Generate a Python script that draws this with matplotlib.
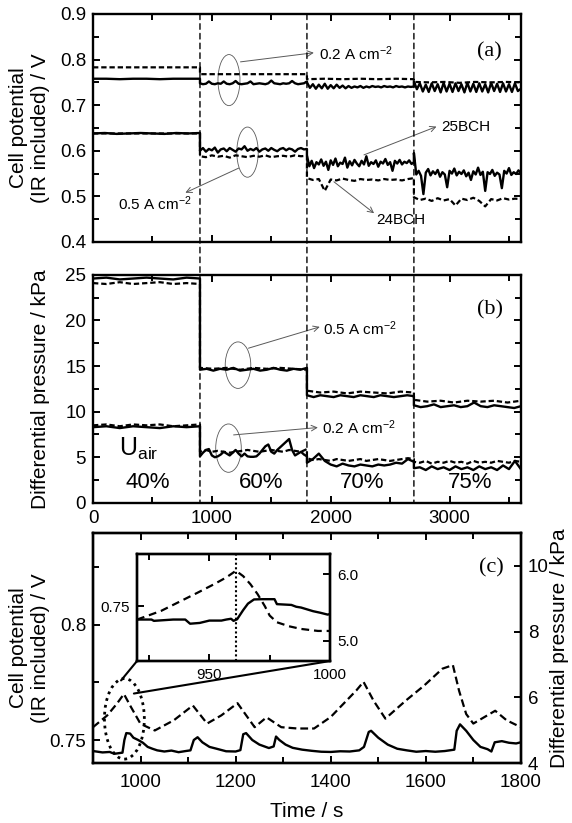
import numpy as np
import matplotlib
matplotlib.use('Agg')
import matplotlib.pyplot as plt
from matplotlib.patches import Ellipse, ConnectionPatch
from matplotlib.ticker import MultipleLocator, FormatStrFormatter, FuncFormatter

plt.rcParams['font.family'] = ['Liberation Sans', 'DejaVu Sans']
plt.rcParams['mathtext.default'] = 'regular'

# ---------------- data ----------------
# step boundaries (s) and Uair labels
steps = [0, 900, 1800, 2700, 3600]
uair_labels = ['40%', '60%', '70%', '75%']
uair_pos = [462, 1415, 2262, 3169]

# (a) cell potential / V, one list per Uair segment
a_s02 = [
    [0.758, 0.758, 0.757, 0.758, 0.758, 0.757, 0.758, 0.758, 0.758],
    [0.748, 0.746, 0.747, 0.752, 0.747, 0.746, 0.748, 0.747, 0.752, 0.747, 0.746, 0.748, 0.753,
     0.747, 0.746, 0.747, 0.748, 0.752, 0.746, 0.747, 0.748, 0.747, 0.746, 0.748, 0.754, 0.748,
     0.747, 0.746, 0.748, 0.747, 0.748, 0.753, 0.748, 0.746, 0.747, 0.748, 0.752],
    [0.750, 0.738, 0.746, 0.736, 0.745, 0.737, 0.747, 0.736, 0.744, 0.737, 0.745, 0.738, 0.743,
     0.737, 0.742, 0.738, 0.741, 0.739, 0.742, 0.738, 0.741, 0.739, 0.742, 0.740, 0.741, 0.739,
     0.742, 0.740, 0.741, 0.739, 0.742, 0.740, 0.741, 0.739, 0.741, 0.740, 0.741],
    [0.752, 0.735, 0.748, 0.730, 0.745, 0.729, 0.748, 0.731, 0.746, 0.728, 0.749, 0.730, 0.747,
     0.729, 0.748, 0.731, 0.746, 0.728, 0.749, 0.730, 0.747, 0.729, 0.748, 0.730, 0.746, 0.728,
     0.749, 0.731, 0.747, 0.729, 0.748, 0.730, 0.746, 0.729, 0.748, 0.731, 0.736],
]
a_d02 = [
    [0.783, 0.783, 0.783],
    [0.768, 0.768, 0.768],
    [0.757, 0.758, 0.757, 0.758, 0.757, 0.758, 0.757],
    [0.751, 0.750, 0.751, 0.749, 0.751, 0.750, 0.751, 0.750],
]
a_s05 = [
    [0.638, 0.639, 0.637, 0.638, 0.639, 0.638, 0.637, 0.639, 0.638, 0.639],
    [0.600, 0.606, 0.598, 0.604, 0.601, 0.607, 0.596, 0.603, 0.605, 0.599, 0.606, 0.602, 0.598,
     0.605, 0.603, 0.610, 0.600, 0.604, 0.601, 0.606, 0.598, 0.603, 0.605, 0.600, 0.606, 0.602,
     0.599, 0.604, 0.606, 0.601, 0.605, 0.603, 0.598, 0.604, 0.606, 0.603, 0.604],
    [0.590, 0.566, 0.578, 0.562, 0.575, 0.570, 0.581, 0.567, 0.576, 0.558, 0.579, 0.569, 0.583,
     0.566, 0.574, 0.571, 0.585, 0.563, 0.577, 0.568, 0.580, 0.572, 0.566, 0.578, 0.570, 0.588,
     0.567, 0.575, 0.571, 0.579, 0.565, 0.576, 0.572, 0.582, 0.569, 0.575, 0.556, 0.578, 0.572,
     0.580, 0.570, 0.576, 0.573, 0.579, 0.571, 0.575],
    [0.595, 0.548, 0.556, 0.545, 0.505, 0.552, 0.560, 0.546, 0.555, 0.549, 0.558, 0.543, 0.553,
     0.548, 0.520, 0.556, 0.550, 0.561, 0.546, 0.554, 0.549, 0.557, 0.544, 0.552, 0.536, 0.555,
     0.548, 0.563, 0.547, 0.554, 0.512, 0.553, 0.549, 0.558, 0.545, 0.552, 0.548, 0.518, 0.556,
     0.550, 0.562, 0.547, 0.553, 0.549, 0.557, 0.551],
]
a_d05 = [
    [0.638, 0.638, 0.638],
    [0.588, 0.586, 0.590, 0.587, 0.589, 0.585, 0.590, 0.588, 0.586, 0.589, 0.587, 0.590, 0.586,
     0.588, 0.589, 0.587, 0.590, 0.588, 0.589],
    [0.540, 0.536, 0.538, 0.512, 0.537, 0.535, 0.539, 0.536, 0.534, 0.538, 0.536, 0.537, 0.535,
     0.538, 0.536, 0.537, 0.535, 0.538, 0.540],
    [0.498, 0.492, 0.495, 0.490, 0.496, 0.491, 0.494, 0.480, 0.495, 0.492, 0.497, 0.490, 0.478,
     0.494, 0.491, 0.496, 0.493, 0.495, 0.494],
]

# (b) differential pressure / kPa
b_s05 = [
    [24.6, 24.7, 24.5, 24.6, 24.7, 24.6, 24.5, 24.7, 24.6],
    [14.6, 14.7, 14.5, 14.7, 14.6, 14.8, 14.5, 14.6, 14.7, 14.5, 14.6, 14.8, 14.6, 14.5, 14.7, 14.6, 14.8],
    [11.8, 11.6, 11.8, 11.7, 11.6, 11.8, 11.7, 11.6, 11.8, 11.7, 11.6, 11.8, 11.7, 11.6, 11.7, 11.8, 11.7],
    [10.7, 10.5, 10.6, 10.8, 10.5, 10.6, 10.7, 10.5, 10.6, 11.0, 10.6, 10.5, 10.7, 10.6, 10.5, 10.4, 10.6],
]
b_d05 = [
    [24.1, 24.0, 24.2, 24.0, 24.1, 24.2, 24.0, 24.1, 24.0],
    [14.8, 14.7, 14.8, 14.6, 14.8, 14.7, 14.8, 14.7, 14.6],
    [12.3, 12.1, 12.2, 12.0, 12.2, 12.1, 12.0, 12.2, 12.1],
    [11.3, 11.1, 11.2, 11.0, 11.2, 11.1, 11.2, 11.0, 11.2],
]
b_s02 = [
    [8.3, 8.4, 8.2, 8.4, 8.3, 8.2, 8.4, 8.3, 8.4],
    [5.1, 5.5, 5.8, 5.9, 5.2, 5.0, 5.1, 5.3, 5.6, 5.4, 5.2, 5.5, 5.8, 5.4, 5.1, 5.4, 5.1, 5.05,
     5.05, 5.1, 5.4, 5.8, 6.2, 6.4, 5.6, 5.4, 5.8, 6.1, 6.4, 6.7, 7.0, 5.8, 5.2, 5.4, 5.6, 5.3, 5.1],
    [4.4, 4.8, 5.4, 4.6, 4.2, 4.0, 4.3, 4.1, 4.0, 4.2, 4.1, 4.0, 4.2, 4.1, 4.2, 4.4, 4.3, 4.8, 4.5],
    [3.8, 3.9, 3.6, 4.0, 3.7, 3.9, 3.6, 4.0, 3.7, 3.9, 3.6, 4.0, 3.7, 3.9, 3.6, 4.1, 3.7, 4.6, 3.7],
]
b_d02 = [
    [8.5, 8.6, 8.4, 8.6, 8.5, 8.6, 8.4, 8.5, 8.6],
    [5.6, 5.8, 5.6, 5.7, 5.6, 5.5, 5.6, 5.7, 5.8, 5.7, 5.6, 5.7, 5.8, 5.7, 5.6, 5.8, 5.7, 5.6, 5.9],
    [4.9, 4.7, 4.8, 4.7, 4.6, 4.8, 4.7, 4.6, 4.7, 4.8, 4.6, 4.7, 4.8, 4.7, 4.6, 4.7, 4.8, 4.9, 4.8],
    [4.5, 4.4, 4.6, 4.3, 4.5, 4.4, 4.6, 4.4, 4.5, 4.3, 4.6, 4.4, 4.5, 4.4, 4.6, 4.5, 4.4, 4.6, 4.5],
]

# (c) zoom 900-1800 s
c_time_v = [900, 920, 935, 945, 955, 962, 966, 970, 978, 985, 995, 1005, 1015, 1025, 1035, 1050,
            1065, 1080, 1095, 1105, 1112, 1120, 1130, 1145, 1160, 1180, 1200, 1210, 1216, 1222,
            1235, 1250, 1270, 1280, 1285, 1292, 1305, 1320, 1340, 1360, 1380, 1400, 1420, 1440,
            1460, 1470, 1480, 1485, 1500, 1520, 1540, 1560, 1580, 1600, 1620, 1640, 1660, 1665,
            1672, 1685, 1700, 1715, 1730, 1738, 1745, 1760, 1775, 1790, 1800]
c_volt = [0.7452, 0.7446, 0.7448, 0.7440, 0.7443, 0.7445, 0.7500, 0.7530, 0.7528, 0.7510, 0.7500,
          0.7488, 0.7470, 0.7462, 0.7455, 0.7450, 0.7454, 0.7447, 0.7452, 0.7455, 0.7500, 0.7512,
          0.7490, 0.7470, 0.7462, 0.7451, 0.7450, 0.7456, 0.7525, 0.7530, 0.7500, 0.7480, 0.7465,
          0.7472, 0.7515, 0.7500, 0.7480, 0.7466, 0.7458, 0.7453, 0.7449, 0.7448, 0.7451, 0.7450,
          0.7455, 0.7470, 0.7535, 0.7540, 0.7510, 0.7480, 0.7462, 0.7455, 0.7449, 0.7452, 0.7449,
          0.7452, 0.7458, 0.7540, 0.7568, 0.7540, 0.7500, 0.7470, 0.7460, 0.7450, 0.7490, 0.7495,
          0.7488, 0.7485, 0.7490]
c_time_p = [900, 930, 950, 965, 980, 1000, 1030, 1070, 1110, 1140, 1170, 1204, 1240, 1265, 1296,
            1330, 1365, 1400, 1430, 1454, 1469, 1490, 1515, 1558, 1596, 1635, 1657, 1670, 1685,
            1700, 1746, 1770, 1800]
c_press = [5.09, 5.45, 5.80, 6.10, 5.70, 5.19, 4.99, 5.30, 5.75, 5.20, 5.45, 5.82, 5.09, 5.39,
           5.09, 5.05, 5.05, 5.40, 5.85, 6.21, 6.47, 5.90, 5.35, 5.90, 6.35, 6.87, 6.98, 6.20,
           5.49, 5.20, 5.59, 5.30, 5.09]

# inset 920-1000 s
in_time_v = [920, 926, 927, 935, 940, 942, 946, 950, 955, 957, 959, 960, 961.5, 964, 966, 968.5,
             972, 977, 978, 984, 986, 988, 993, 996, 999, 1000]
in_volt = [0.7449, 0.7449, 0.7444, 0.7449, 0.7449, 0.7433, 0.7436, 0.7445, 0.7445, 0.7449, 0.7452,
           0.7444, 0.7450, 0.7485, 0.7510, 0.7526, 0.7527, 0.7527, 0.7508, 0.7505, 0.7498, 0.7495,
           0.7481, 0.7475, 0.7468, 0.7470]
in_time_p = [920, 930, 940, 945, 952, 957, 961, 964, 967, 970, 973, 975, 978, 983, 988, 995, 1000]
in_press = [5.32, 5.45, 5.63, 5.72, 5.85, 5.95, 6.05, 5.97, 5.85, 5.70, 5.52, 5.38, 5.28, 5.22,
            5.18, 5.15, 5.15]


def series(segs):
    t, v = [], []
    for k, vals in enumerate(segs):
        t.extend(np.linspace(steps[k], steps[k + 1], len(vals)))
        v.extend(vals)
    return t, v


solid = dict(color='k', lw=1.7, ls='-')
dash = dict(color='k', lw=1.6, ls=(0, (2.4, 1.3)))
gray = '0.35'


def style(ax, size=13.5):
    for s in ax.spines.values():
        s.set_linewidth(1.7)
    ax.tick_params(which='both', direction='in', top=True, right=True, width=1.4,
                   labelsize=size, pad=5)
    ax.tick_params(which='major', length=5)
    ax.tick_params(which='minor', length=4)


fig = plt.figure(figsize=(5.72, 8.23), dpi=100)
ax_a = fig.add_axes([0.1626, 0.706, 0.748, 0.277])
ax_b = fig.add_axes([0.1626, 0.389, 0.748, 0.277])
ax_c = fig.add_axes([0.1626, 0.0729, 0.748, 0.2795])

# ---- (a) ----
for segs, st in [(a_d02, dash), (a_s02, solid), (a_d05, dash), (a_s05, solid)]:
    t, v = series(segs)
    ax_a.plot(t, v, **st)
ax_a.set_xlim(0, 3600)
ax_a.set_ylim(0.4, 0.9)
ax_a.xaxis.set_major_locator(MultipleLocator(1000))
ax_a.xaxis.set_minor_locator(MultipleLocator(500))
ax_a.yaxis.set_major_locator(MultipleLocator(0.1))
ax_a.yaxis.set_minor_locator(MultipleLocator(0.05))
style(ax_a)
ax_a.tick_params(labelbottom=False)
ax_a.set_ylabel('Cell potential\n(IR included) / V', fontsize=15)
ax_a.yaxis.set_label_coords(-0.10, 0.5)
ax_a.text(3339, 0.817, '(a)', fontsize=16, family='Liberation Serif', ha='center', va='center')

ax_a.add_patch(Ellipse((1144, 0.755), 185, 0.112, fill=False, ec=gray, lw=0.6))
ax_a.add_patch(Ellipse((1300, 0.597), 180, 0.110, fill=False, ec=gray, lw=0.6))
arrow = dict(arrowstyle='->', color=gray, lw=0.7, shrinkA=0, shrinkB=0)
ax_a.annotate('', xy=(1858, 0.815), xytext=(1241, 0.795), arrowprops=arrow)
ax_a.text(1900, 0.814, '0.2 A cm$^{-2}$', fontsize=11, va='center')
ax_a.annotate('', xy=(777, 0.508), xytext=(1226, 0.562), arrowprops=arrow)
ax_a.text(210, 0.485, '0.5 A cm$^{-2}$', fontsize=11, va='center')
ax_a.annotate('', xy=(2890, 0.653), xytext=(2280, 0.591), arrowprops=arrow)
ax_a.text(2930, 0.652, '25BCH', fontsize=11, va='center')
ax_a.annotate('', xy=(2365, 0.463), xytext=(2027, 0.532), arrowprops=arrow)
ax_a.text(2380, 0.448, '24BCH', fontsize=11, va='center')

# ---- (b) ----
for segs, st in [(b_d05, dash), (b_s05, solid), (b_d02, dash), (b_s02, solid)]:
    t, v = series(segs)
    ax_b.plot(t, v, **st)
ax_b.set_xlim(0, 3600)
ax_b.set_ylim(0, 25)
ax_b.xaxis.set_major_locator(MultipleLocator(1000))
ax_b.xaxis.set_minor_locator(MultipleLocator(500))
ax_b.yaxis.set_major_locator(MultipleLocator(5))
ax_b.yaxis.set_minor_locator(MultipleLocator(2.5))
style(ax_b)
ax_b.set_ylabel('Differential pressure / kPa', fontsize=15)
ax_b.yaxis.set_label_coords(-0.10, 0.5)
ax_b.text(3339, 21.2, '(b)', fontsize=16, family='Liberation Serif', ha='center', va='center')
ax_b.add_patch(Ellipse((1220, 15.1), 215, 5.1, fill=False, ec=gray, lw=0.6))
ax_b.add_patch(Ellipse((1140, 6.0), 215, 5.3, fill=False, ec=gray, lw=0.6))
ax_b.annotate('', xy=(1908, 19.3), xytext=(1308, 16.96), arrowprops=arrow)
ax_b.text(1938, 19.1, '0.5 A cm$^{-2}$', fontsize=11, va='center')
ax_b.annotate('', xy=(1892, 8.26), xytext=(1183, 7.45), arrowprops=arrow)
ax_b.text(1923, 8.25, '0.2 A cm$^{-2}$', fontsize=11, va='center')
ax_b.text(215, 5.9, 'U$_{air}$', fontsize=18, va='center')
for lab, x in zip(uair_labels, uair_pos):
    ax_b.text(x, 2.2, lab, fontsize=16, ha='center', va='center')

# vertical step markers through (a) and (b)
for x in steps[1:4]:
    con = ConnectionPatch(xyA=(x, 0.9), coordsA=ax_a.transData, xyB=(x, 0), coordsB=ax_b.transData,
                          color='k', lw=1.0, ls=(0, (4, 3)))
    fig.add_artist(con)

# ---- (c) ----
ax_c2 = ax_c.twinx()
ax_c.plot(c_time_v, c_volt, **solid)
ax_c2.plot(c_time_p, c_press, color='k', lw=1.6, ls=(0, (3.5, 1.8)))
ax_c.set_xlim(900, 1800)
ax_c.set_ylim(0.74, 0.84)
ax_c2.set_ylim(4, 11)
ax_c.xaxis.set_major_locator(MultipleLocator(200))
ax_c.xaxis.set_minor_locator(MultipleLocator(100))
ax_c.yaxis.set_major_locator(MultipleLocator(0.05))
ax_c.yaxis.set_minor_locator(MultipleLocator(0.025))
ax_c.yaxis.set_major_formatter(FuncFormatter(lambda v, p: '%g' % round(v, 3)))
ax_c2.yaxis.set_major_locator(MultipleLocator(2))
style(ax_c)
ax_c.tick_params(which='both', right=False)
ax_c.tick_params(axis='x', pad=8)
style(ax_c2)
ax_c2.tick_params(which='both', left=False, top=False)
ax_c.set_ylabel('Cell potential\n(IR included) / V', fontsize=15)
ax_c.yaxis.set_label_coords(-0.10, 0.5)
ax_c.set_xlabel('Time / s', fontsize=15, labelpad=8)
ax_c.text(1737, 0.825, '(c)', fontsize=16, family='Liberation Serif', ha='center', va='center')
fig.text(0.978, 0.213, 'Differential pressure / kPa', fontsize=15, rotation=90,
         ha='center', va='center')
ax_c.add_patch(Ellipse((966, 0.7592), 84, 0.035, fill=False, ec='k', lw=2.0, ls=(0, (1, 1.5))))

# inset
ax_in = fig.add_axes([0.2395, 0.1968, 0.3374, 0.130])
ax_in2 = ax_in.twinx()
ax_in.plot(in_time_v, in_volt, **solid)
ax_in2.plot(in_time_p, in_press, color='k', lw=1.6, ls=(0, (3.5, 2.2)))
ax_in.axvline(961, color='k', lw=1.5, ls=(0, (1, 1.2)))
ax_in.set_xlim(920, 1000)
ax_in.set_ylim(0.729, 0.770)
ax_in2.set_ylim(4.7, 6.3)
ax_in.xaxis.set_major_locator(MultipleLocator(50))
ax_in.xaxis.set_minor_locator(MultipleLocator(25))
ax_in.yaxis.set_major_locator(MultipleLocator(0.05))
ax_in.yaxis.set_major_formatter(FuncFormatter(lambda v, p: '%g' % round(v, 3)))
ax_in2.set_yticks([5.0, 6.0])
ax_in2.yaxis.set_major_formatter(FormatStrFormatter('%.1f'))
style(ax_in, 11)
ax_in.tick_params(which='both', right=False)
style(ax_in2, 11)
ax_in2.tick_params(which='both', left=False, top=False)

for xa, target in [((0, 0), (959, 0.7759)), ((1, 0), (986, 0.7702))]:
    con = ConnectionPatch(xyA=xa, coordsA=ax_in.transAxes, xyB=target, coordsB=ax_c.transData,
                          color='k', lw=1.5)
    fig.add_artist(con)

fig.savefig('out.png', dpi=100)
